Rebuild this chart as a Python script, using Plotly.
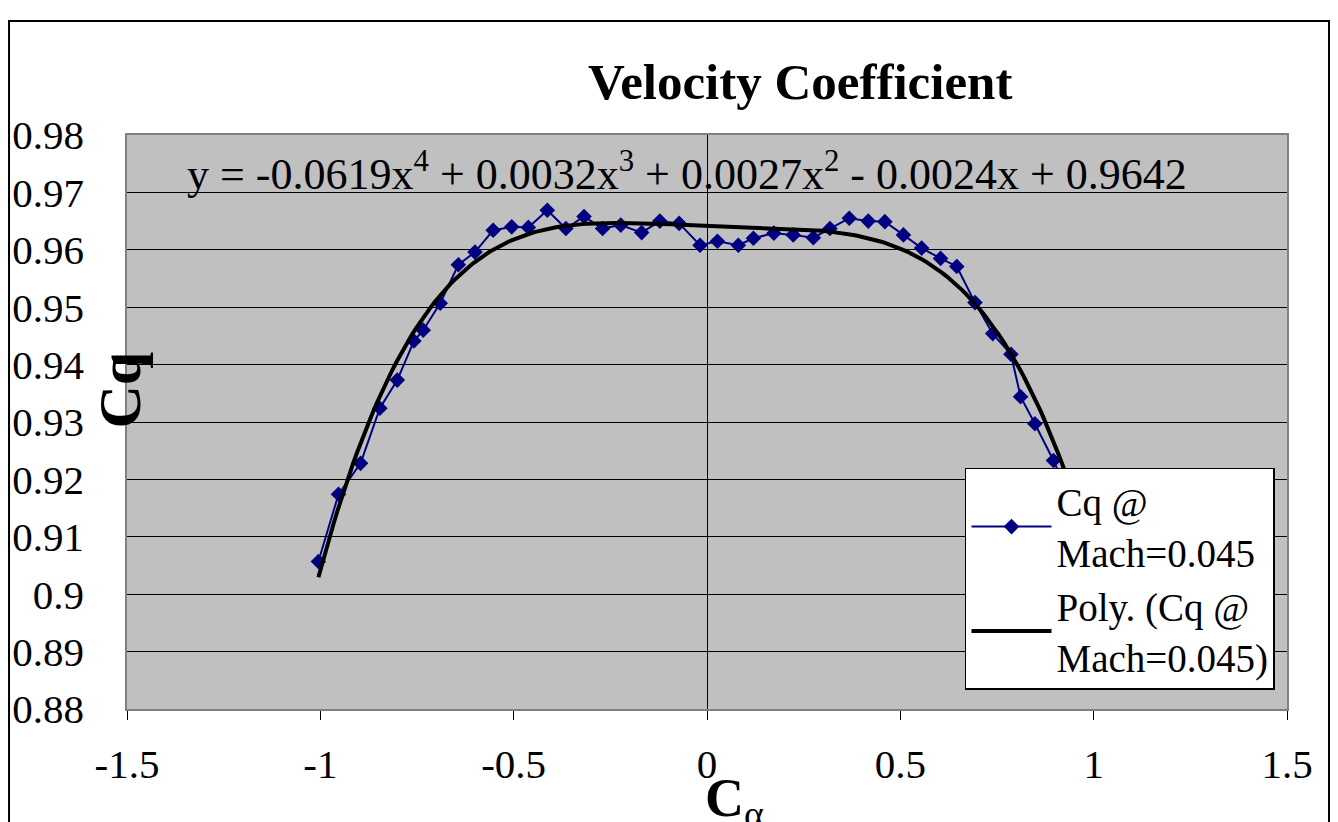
import numpy as np
import plotly.graph_objects as go

# ---- data ----
c_alpha = [-1.005, -0.953, -0.896, -0.846, -0.801, -0.758, -0.734, -0.690,
           -0.643, -0.600, -0.553, -0.505, -0.462, -0.413, -0.365, -0.318,
           -0.270, -0.223, -0.169, -0.122, -0.072, -0.018, 0.027, 0.081,
           0.120, 0.173, 0.223, 0.275, 0.318, 0.368, 0.417, 0.460, 0.508,
           0.555, 0.604, 0.646, 0.693, 0.739, 0.786, 0.811, 0.848, 0.896,
           0.940, 0.990]
cq = [0.9057, 0.9174, 0.9228, 0.9324, 0.9373, 0.9441, 0.9460, 0.9507,
      0.9574, 0.9596, 0.9634, 0.9640, 0.9639, 0.9669, 0.9637, 0.9658,
      0.9637, 0.9643, 0.9630, 0.9650, 0.9646, 0.9608, 0.9615, 0.9608,
      0.9620, 0.9629, 0.9626, 0.9621, 0.9637, 0.9655, 0.9650, 0.9649,
      0.9626, 0.9603, 0.9585, 0.9571, 0.9508, 0.9454, 0.9418, 0.9344,
      0.9297, 0.9233, 0.9165, 0.9060]
# trendline coefficients shown on the chart (highest power first)
poly_coef = [-0.0619, 0.0032, 0.0027, -0.0024, 0.9642]
eq_text = "y = -0.0619x<sup>4</sup> + 0.0032x<sup>3</sup> + 0.0027x<sup>2</sup> - 0.0024x + 0.9642"
x_ticks = [-1.5, -1, -0.5, 0, 0.5, 1, 1.5]
x_tick_text = ["-1.5", "-1", "-0.5", "0", "0.5", "1", "1.5"]
y_ticks = [0.88, 0.89, 0.90, 0.91, 0.92, 0.93, 0.94, 0.95, 0.96, 0.97, 0.98]
y_tick_text = ["0.88", "0.89", "0.9", "0.91", "0.92", "0.93", "0.94", "0.95", "0.96", "0.97", "0.98"]

FONT = "Liberation Serif"

xt = np.linspace(min(c_alpha), max(c_alpha), 200)
yt = np.polyval(poly_coef, xt)

fig = go.Figure()
fig.add_trace(go.Scatter(
    x=c_alpha, y=cq, mode="lines+markers",
    name="Cq @<br>Mach=0.045",
    line=dict(color="#000080", width=2),
    marker=dict(symbol="diamond", size=12, color="#000080"),
))
fig.add_trace(go.Scatter(
    x=xt, y=yt, mode="lines",
    name="Poly. (Cq @<br>Mach=0.045)",
    line=dict(color="black", width=4),
))

fig.update_layout(
    width=1338, height=822,
    margin=dict(l=127, r=51, t=135, b=113, autoexpand=False),
    paper_bgcolor="white",
    plot_bgcolor="#C0C0C0",
    font=dict(family=FONT, color="black", size=40),
    showlegend=True,
    legend=dict(
        x=0.7224, y=0.42, xanchor="left", yanchor="top",
        bgcolor="white", bordercolor="black", borderwidth=1.5,
        font=dict(family=FONT, size=39, color="black"),
        itemwidth=80, tracegroupgap=12,
    ),
    xaxis=dict(
        range=[-1.5, 1.5], tickvals=x_ticks, ticktext=x_tick_text,
        ticks="outside", ticklen=9, tickcolor="black", tickwidth=1,
        showgrid=False, zeroline=True, zerolinecolor="black", zerolinewidth=1,
        showline=True, linecolor="#808080", linewidth=1.5, mirror=True,
        tickfont=dict(family=FONT, size=41, color="black"),
        ticklabelstandoff=9, automargin=False,
    ),
    yaxis=dict(
        range=[0.88, 0.98], tickvals=y_ticks, ticktext=y_tick_text,
        ticks="", showgrid=True, gridcolor="black", gridwidth=1,
        zeroline=False,
        showline=True, linecolor="#808080", linewidth=1.5, mirror=True,
        tickfont=dict(family=FONT, size=41, color="black"),
        ticklabelstandoff=33, automargin=False,
    ),
)

# chart title
fig.add_annotation(text="<b>Velocity Coefficient</b>", xref="paper", yref="paper",
                   x=0.58, y=1.092, xanchor="center", yanchor="middle", showarrow=False,
                   font=dict(family=FONT, size=51, color="black"))
# trendline equation
fig.add_annotation(text=eq_text, xref="x", yref="y", x=-1.35, y=0.9736,
                   xanchor="left", yanchor="middle", showarrow=False,
                   font=dict(family=FONT, size=44, color="black"))
# axis titles
fig.add_annotation(text="<b>Cq</b>", xref="paper", yref="paper", x=-0.006, y=0.555,
                   xanchor="center", yanchor="middle", textangle=-90, showarrow=False,
                   font=dict(family=FONT, size=60, color="black"))
fig.add_annotation(text="<b>C</b><sub>α</sub>", xref="x", yref="paper", x=0.07, y=-0.1,
                   xanchor="center", yanchor="top", showarrow=False,
                   font=dict(family=FONT, size=54, color="black"))

# outer chart-area border
fig.add_shape(type="rect", xref="paper", yref="paper",
              x0=-0.1017, x1=1.0362, y0=-0.25, y1=1.1986,
              line=dict(color="black", width=2), fillcolor="rgba(0,0,0,0)", layer="above")

fig.write_html("out.html")
